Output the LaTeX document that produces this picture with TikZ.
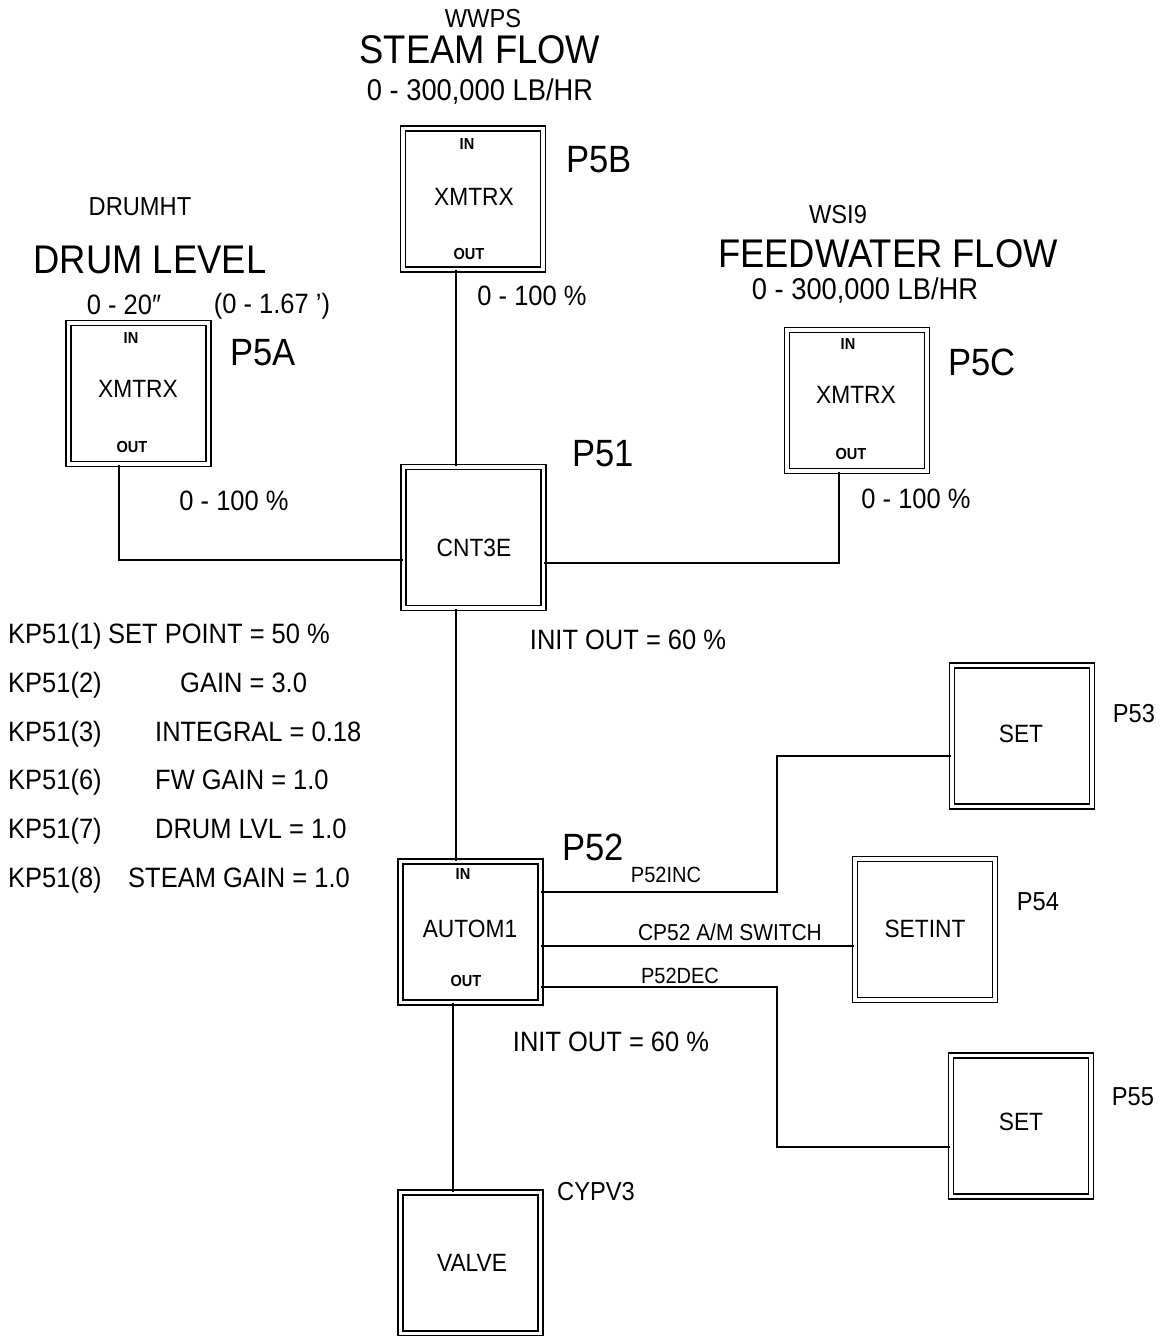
\documentclass[tikz,border=0pt]{standalone}
\usepackage{fontspec}
\setmainfont{Liberation Sans}[FakeStretch=0.91]
\begin{document}
\begin{tikzpicture}[x=1pt,y=-1pt,
  blk/.style={draw, double, double distance=3.5pt, line width=1.5pt,
    minimum width=140pt, minimum height=141pt, inner sep=0pt},
  wire/.style={line width=1.6pt},
  lbl/.style={inner sep=0pt, anchor=base},
  lblw/.style={inner sep=0pt, anchor=base west},
  hugeF/.style={font=\fontsize{40}{48}\selectfont},
  tagF/.style={font=\fontsize{38}{46}\selectfont},
  midF/.style={font=\fontsize{28}{34}\selectfont},
  rngF/.style={font=\fontsize{30}{36}\selectfont},
  smF/.style={font=\fontsize{26}{31}\selectfont},
  boxF/.style={font=\fontsize{25}{30}\selectfont},
  swF/.style={font=\fontsize{23}{28}\selectfont},
  pinF/.style={font=\fontsize{16}{19}\selectfont\bfseries},
  sigF/.style={font=\fontsize{22}{26}\selectfont}
]
\useasboundingbox (0,0) rectangle (1162,1336);

% blocks
\node[blk] (p5b) at (473,199) {};
\node[blk] (p5a) at (138.5,393.5) {};
\node[blk] (p5c) at (857,400.5) {};
\node[blk] (cnt) at (473.5,537.5) {};
\node[blk] (aut) at (470.5,932) {};
\node[blk] (p53) at (1022,736) {};
\node[blk] (p54) at (925,929.5) {};
\node[blk] (p55) at (1021,1126) {};
\node[blk] (vlv) at (470.5,1263) {};

% block texts
\node[lbl,boxF] (x5b) at (474,205) {XMTRX};
\node[lbl,boxF] (x5a) at (138,397) {XMTRX};
\node[lbl,boxF] (x5c) at (856,403) {XMTRX};
\node[lbl,boxF] (xcn) at (474,556) {CNT3E};
\node[lbl,boxF] (xau) at (470,937) {AUTOM1};
\node[lbl,boxF] (x53) at (1021,742) {SET};
\node[lbl,boxF] (x54) at (925,937) {SETINT};
\node[lbl,boxF] (x55) at (1021,1130) {SET};
\node[lbl,boxF] (xvl) at (472,1271) {VALVE};

\node[lbl,pinF] (i5b) at (467,149) {IN};
\node[lbl,pinF] (i5a) at (131,343) {IN};
\node[lbl,pinF] (i5c) at (848,349) {IN};
\node[lbl,pinF] (iau) at (463,879) {IN};
\node[lbl,pinF] (o5b) at (469,259) {OUT};
\node[lbl,pinF] (o5a) at (132,452) {OUT};
\node[lbl,pinF] (o5c) at (851,459) {OUT};
\node[lbl,pinF] (oau) at (466,986) {OUT};

% connectors
\coordinate (jx) at (777,0);
\draw[wire] ([xshift=-17pt]p5b.south) -- ([xshift=-17pt]p5b.south |- cnt.north);
\draw[wire] ([xshift=-19.5pt]p5a.south) |- ([yshift=-22.5pt]cnt.west);
\draw[wire] ([yshift=-25.5pt]cnt.east) -| ([xshift=-18pt]p5c.south);
\draw[wire] ([xshift=-17.5pt]cnt.south) -- ([xshift=-17.5pt]cnt.south |- aut.north);
\draw[wire] ([xshift=-17.5pt]aut.south) -- ([xshift=-17.5pt]aut.south |- vlv.north);
\coordinate (a1) at ([yshift=40pt]aut.east);
\coordinate (b1) at ([yshift=-20pt]p53.west);
\draw[wire] (a1) -- (a1 -| jx) |- (b1);
\coordinate (a2) at ([yshift=-14pt]aut.east);
\draw[wire] (a2) -- (a2 -| p54.west);
\coordinate (a3) at ([yshift=-55pt]aut.east);
\coordinate (b3) at ([yshift=-21pt]p55.west);
\draw[wire] (a3) -- (a3 -| jx) |- (b3);

% top labels
\node[lbl,smF] (t1) at (483,27) {WWPS};
\node[lbl,hugeF] (t2) at (480,63) {STEAM FLOW};
\node[lbl,rngF] (t3) at (480,100) {0 - 300,000 LB/HR};
\node[lbl,tagF] (t4) at (599,172) {P5B};
\node[lbl,midF] (t5) at (532,305) {0 - 100 \%};

\node[lbl,smF] (d1) at (140,215) {DRUMHT};
\node[lbl,hugeF] (d2) at (150,273) {DRUM LEVEL};
\node[lbl,midF] (d3) at (124,314) {0 - 20″};
\node[lbl,midF] (d4) at (272,313) {(0 - 1.67 ’)};
\node[lbl,tagF] (d5) at (263,365) {P5A};
\node[lbl,midF] (d6) at (234,510) {0 - 100 \%};

\node[lbl,smF] (f1) at (838,223) {WSI9};
\node[lbl,hugeF] (f2) at (888,267) {FEEDWATER FLOW};
\node[lbl,rngF] (f3) at (865,299) {0 - 300,000 LB/HR};
\node[lbl,tagF] (f4) at (982,375) {P5C};
\node[lbl,midF] (f5) at (916,508) {0 - 100 \%};

\node[lbl,tagF] (c1) at (603,466) {P51};
\node[lbl,midF] (c2) at (628,649) {INIT OUT = 60 \%};

\node[lbl,tagF] (g1) at (593,860) {P52};
\node[lbl,sigF] (g2) at (666,882) {P52INC};
\node[lbl,swF] (g3) at (730,940) {CP52 A/M SWITCH};
\node[lbl,sigF] (g4) at (680,983) {P52DEC};
\node[lbl,midF] (g5) at (611,1051) {INIT OUT = 60 \%};

\node[lbl,smF] (v1) at (596,1200) {CYPV3};
\node[lbl,smF] (s3) at (1134,722) {P53};
\node[lbl,smF] (s4) at (1038,910) {P54};
\node[lbl,smF] (s5) at (1133,1105) {P55};

% parameter list
\node[lblw,midF] (k1) at (8,643) {KP51(1)};
\node[lblw,midF] (k2) at (8,692) {KP51(2)};
\node[lblw,midF] (k3) at (8,741) {KP51(3)};
\node[lblw,midF] (k6) at (8,789) {KP51(6)};
\node[lblw,midF] (k7) at (8,838) {KP51(7)};
\node[lblw,midF] (k8) at (8,887) {KP51(8)};
\node[lblw,midF] (m1) at (108,643) {SET POINT = 50 \%};
\node[lblw,midF] (m2) at (180,692) {GAIN = 3.0};
\node[lblw,midF] (m3) at (155,741) {INTEGRAL = 0.18};
\node[lblw,midF] (m6) at (155,789) {FW GAIN = 1.0};
\node[lblw,midF] (m7) at (155,838) {DRUM LVL = 1.0};
\node[lblw,midF] (m8) at (128,887) {STEAM GAIN = 1.0};
\end{tikzpicture}
\end{document}
